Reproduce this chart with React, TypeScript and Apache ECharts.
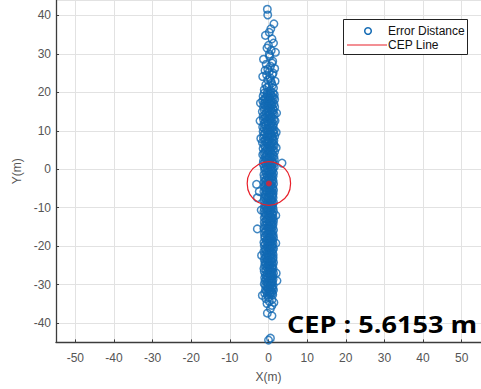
import React, { useEffect, useRef } from "react";
import * as echarts from "echarts";

// Positioning error samples [x (m), y (m)] — sparse upper tail
const upperTail: number[][] = [
  [-0.3, 41.6], [-0.2, 40.1], [1.4, 37.8], [0.6, 36.5], [0.2, 35.6], [-0.8, 34.8], [0.9, 33.9], [1.3, 32.8],
  [0.0, 32.2], [-0.4, 31.5], [0.7, 30.9], [1.8, 30.4], [0.2, 29.9], [0.3, 29.4], [-1.3, 28.6], [1.1, 28.1],
  [0.9, 27.6], [-0.6, 27.3], [0.5, 26.8], [1.6, 26.2], [-0.2, 26.0], [-0.9, 25.7], [0.2, 25.3], [1.2, 25.0],
  [1.0, 24.6], [-0.5, 24.5], [-1.5, 24.1], [0.4, 23.8], [-0.2, 23.2], [0.6, 23.0], [1.7, 22.9], [0.8, 22.4],
  [-0.7, 22.0], [1.0, 21.8], [0.1, 21.6], [-0.4, 21.3], [1.3, 21.1], [-1.1, 20.7], [0.5, 20.4], [-0.3, 20.0],
];

// Dense core between +20 m and 0 m
const upperCore: number[][] = [
  [-1.1, 19.8], [0.3, 19.8], [1.2, 19.8], [0.6, 19.4], [-0.4, 19.4], [1.5, 19.4],
  [-1.4, 19.0], [0.9, 19.0], [0.0, 19.0], [1.3, 18.6], [-0.7, 18.6], [0.4, 18.6],
  [0.1, 18.2], [1.6, 18.2], [-1.0, 18.2], [-0.3, 17.8], [0.7, 17.8], [-1.5, 17.8],
  [1.0, 17.4], [-0.8, 17.4], [0.2, 17.4], [-1.2, 17.0], [1.4, 17.0], [0.5, 17.0],
  [0.8, 16.6], [-0.1, 16.6], [-0.9, 16.6], [1.6, 16.2], [0.3, 16.2], [-1.3, 16.2],
  [-0.5, 15.8], [1.1, 15.8], [0.0, 15.8], [0.6, 15.4], [-1.1, 15.4], [1.3, 15.4],
  [-0.2, 15.0], [0.9, 15.0], [-1.6, 15.0], [1.2, 14.6], [-0.6, 14.6], [0.4, 14.6],
  [-1.0, 14.2], [0.2, 14.2], [1.5, 14.2], [0.7, 13.8], [-1.4, 13.8], [-0.3, 13.8],
  [1.0, 13.4], [0.1, 13.4], [-0.8, 13.4], [-1.3, 13.0], [1.4, 13.0], [0.5, 13.0],
  [0.3, 12.6], [-0.5, 12.6], [1.7, 12.6], [-0.9, 12.2], [0.8, 12.2], [-0.1, 12.2],
  [1.3, 11.8], [-1.2, 11.8], [0.6, 11.8], [0.0, 11.4], [1.0, 11.4], [-0.7, 11.4],
  [-1.5, 11.0], [0.4, 11.0], [1.2, 11.0], [0.9, 10.6], [-0.3, 10.6], [-1.1, 10.6],
  [1.5, 10.2], [0.2, 10.2], [-0.6, 10.2], [-0.2, 9.8], [1.1, 9.8], [-1.4, 9.8],
  [0.5, 9.4], [-0.9, 9.4], [1.4, 9.4], [-1.2, 9.0], [0.7, 9.0], [0.0, 9.0],
  [1.0, 8.6], [-0.4, 8.6], [1.6, 8.6], [0.3, 8.2], [-1.3, 8.2], [0.8, 8.2],
  [-0.7, 7.8], [1.2, 7.8], [-0.1, 7.8], [1.4, 7.4], [0.1, 7.4], [-1.0, 7.4],
  [-0.5, 7.0], [0.9, 7.0], [-1.6, 7.0], [0.6, 6.6], [-0.2, 6.6], [1.3, 6.6],
  [-1.1, 6.2], [1.5, 6.2], [0.4, 6.2], [0.2, 5.8], [-0.8, 5.8], [1.0, 5.8],
  [-1.4, 5.4], [0.7, 5.4], [-0.3, 5.4], [1.2, 5.0], [0.0, 5.0], [-0.6, 5.0],
  [-0.9, 4.6], [1.6, 4.6], [0.5, 4.6], [0.8, 4.2], [-1.2, 4.2], [0.1, 4.2],
  [-0.4, 3.8], [1.1, 3.8], [-1.5, 3.8], [1.4, 3.4], [0.3, 3.4], [-0.7, 3.4],
  [-1.0, 3.0], [0.6, 3.0], [1.0, 3.0], [0.0, 2.6], [-0.5, 2.6], [1.5, 2.6],
  [-1.3, 2.2], [0.9, 2.2], [0.3, 2.2], [1.1, 1.8], [-0.9, 1.8], [-0.1, 1.8],
  [0.5, 1.4], [-1.4, 1.4], [1.3, 1.4], [-0.6, 1.0], [0.8, 1.0], [0.0, 1.0],
  [1.5, 0.6], [-1.1, 0.6], [0.4, 0.6], [-0.3, 0.2], [1.0, 0.2], [-0.8, 0.2],
];

// Dense core between 0 m and -33 m
const lowerCore: number[][] = [
  [0.6, -0.2], [-1.0, -0.2], [1.1, -0.2], [-0.3, -0.6], [0.9, -0.6], [0.2, -0.6],
  [1.3, -1.0], [-0.7, -1.0], [0.4, -1.0], [-1.2, -1.4], [0.7, -1.4], [0.0, -1.4],
  [0.9, -1.8], [-0.4, -1.8], [1.2, -1.8], [0.1, -2.2], [-1.1, -2.2], [0.6, -2.2],
  [-0.6, -2.6], [1.0, -2.6], [0.3, -2.6], [1.2, -3.0], [-0.2, -3.0], [-0.9, -3.0],
  [0.4, -3.4], [-1.2, -3.4], [0.8, -3.4], [-0.1, -3.8], [1.3, -3.8], [-0.6, -3.8],
  [0.7, -4.2], [-0.9, -4.2], [0.2, -4.2], [-1.1, -4.6], [0.5, -4.6], [1.1, -4.6],
  [0.0, -5.0], [1.0, -5.0], [-0.5, -5.0], [1.3, -5.4], [-0.8, -5.4], [0.3, -5.4],
  [-0.4, -5.8], [0.8, -5.8], [-1.2, -5.8], [0.6, -6.2], [0.1, -6.2], [1.2, -6.2],
  [-0.9, -6.6], [1.1, -6.6], [0.4, -6.6], [0.2, -7.0], [-0.6, -7.0], [1.0, -7.0],
  [1.2, -7.4], [-1.0, -7.4], [-0.2, -7.4], [-0.5, -7.8], [0.7, -7.8], [0.0, -7.8],
  [0.9, -8.2], [-1.2, -8.2], [0.5, -8.2], [-0.2, -8.6], [1.3, -8.6], [-0.8, -8.6],
  [0.4, -9.0], [-0.4, -9.0], [1.1, -9.0], [-1.0, -9.4], [0.8, -9.4], [0.1, -9.4],
  [1.0, -9.8], [-0.7, -9.8], [0.6, -9.8], [-0.3, -10.2], [1.2, -10.2], [-1.1, -10.2],
  [0.7, -10.6], [0.0, -10.6], [-0.5, -10.6], [-1.2, -11.0], [0.5, -11.0], [1.3, -11.0],
  [0.3, -11.4], [-0.9, -11.4], [0.9, -11.4], [1.1, -11.8], [-0.1, -11.8], [-0.6, -11.8],
  [-0.8, -12.2], [0.6, -12.2], [0.2, -12.2], [0.8, -12.6], [-1.1, -12.6], [1.2, -12.6],
  [-0.4, -13.0], [1.0, -13.0], [0.0, -13.0], [0.5, -13.4], [-0.7, -13.4], [1.3, -13.4],
  [-1.1, -13.8], [0.2, -13.8], [0.9, -13.8], [1.2, -14.2], [-0.3, -14.2], [0.6, -14.2],
  [-0.6, -14.6], [0.9, -14.6], [-1.0, -14.6], [0.1, -15.0], [1.1, -15.0], [-0.2, -15.0],
  [0.7, -15.4], [-1.2, -15.4], [0.4, -15.4], [-0.5, -15.8], [1.3, -15.8], [0.0, -15.8],
  [1.0, -16.2], [-0.8, -16.2], [0.3, -16.2], [-0.1, -16.6], [0.6, -16.6], [-1.1, -16.6],
  [1.2, -17.0], [-0.4, -17.0], [0.8, -17.0], [-0.9, -17.4], [0.2, -17.4], [1.0, -17.4],
  [0.5, -17.8], [-1.0, -17.8], [1.3, -17.8], [-0.3, -18.2], [0.9, -18.2], [0.1, -18.2],
  [1.1, -18.6], [-0.6, -18.6], [0.4, -18.6], [-1.2, -19.0], [0.7, -19.0], [-0.2, -19.0],
  [0.3, -19.4], [1.2, -19.4], [-0.8, -19.4], [0.9, -19.8], [-0.1, -19.8], [-1.1, -19.8],
  [-0.4, -20.2], [1.0, -20.2], [0.5, -20.2], [1.3, -20.6], [-0.9, -20.6], [0.0, -20.6],
  [-0.7, -21.0], [0.4, -21.0], [1.1, -21.0], [0.2, -21.4], [-1.2, -21.4], [0.8, -21.4],
  [1.0, -21.8], [-0.3, -21.8], [-0.6, -21.8], [-1.0, -22.2], [0.6, -22.2], [1.2, -22.2],
  [0.4, -22.6], [0.0, -22.6], [-0.5, -22.6], [1.2, -23.0], [-0.8, -23.0], [0.7, -23.0],
  [-0.2, -23.4], [1.1, -23.4], [-1.1, -23.4], [0.6, -23.8], [-0.4, -23.8], [0.2, -23.8],
  [-0.9, -24.2], [1.3, -24.2], [0.9, -24.2], [0.1, -24.6], [-0.7, -24.6], [0.5, -24.6],
  [1.1, -25.0], [-1.0, -25.0], [-0.1, -25.0], [-0.5, -25.4], [0.8, -25.4], [0.3, -25.4],
  [0.9, -25.8], [-1.2, -25.8], [1.2, -25.8], [0.0, -26.2], [0.6, -26.2], [-0.6, -26.2],
  [-1.1, -26.6], [1.0, -26.6], [0.4, -26.6], [0.7, -27.0], [-0.3, -27.0], [1.3, -27.0],
  [-0.8, -27.4], [0.2, -27.4], [0.9, -27.4], [1.1, -27.8], [-0.5, -27.8], [0.5, -27.8],
  [-0.2, -28.2], [0.8, -28.2], [-1.0, -28.2], [0.4, -28.6], [1.2, -28.6], [-0.6, -28.6],
  [-0.9, -29.0], [0.1, -29.0], [0.9, -29.0], [1.0, -29.4], [-0.4, -29.4], [0.6, -29.4],
  [-0.1, -29.8], [0.7, -29.8], [-1.1, -29.8], [0.5, -30.2], [-0.8, -30.2], [1.2, -30.2],
  [-0.5, -30.6], [0.3, -30.6], [0.9, -30.6], [1.1, -31.0], [-0.2, -31.0], [0.0, -31.0],
  [-0.8, -31.4], [0.6, -31.4], [1.3, -31.4], [0.2, -31.8], [-0.5, -31.8], [0.8, -31.8],
  [1.0, -32.2], [-1.0, -32.2], [0.4, -32.2], [-0.3, -32.6], [0.5, -32.6], [1.1, -32.6],
];

// Sparse lower tail
const lowerTail: number[][] = [
  [-1.6, -32.8], [0.0, -33.3], [-0.7, -33.6], [0.9, -33.9], [0.2, -34.3], [1.4, -34.6], [-0.4, -34.9],
  [0.9, -35.4], [0.5, -36.2], [-0.3, -37.4], [0.9, -38.1], [0.0, -44.4], [0.5, -43.9],
];

// Scattered outliers around the core
const outliers: number[][] = [
  [3.5, 1.6], [-3.1, -3.9], [-2.9, -7.4], [-2.4, -5.8], [-2.9, -15.5], [2.2, -29.0], [2.0, -27.0],
  [-2.2, 12.6], [2.1, 14.6], [-2.0, 8.0], [2.0, 5.6], [-1.9, -10.6], [1.9, -12.0], [-1.8, -22.4],
  [1.9, -19.2], [-2.1, 17.2], [2.0, 9.6],
];

const errorPoints: number[][] = [...upperTail, ...upperCore, ...lowerCore, ...lowerTail, ...outliers];

// Mean error position and circular error probable radius
const cepCenter: number[] = [0.1, -3.7];
const cepRadius = 5.6153;

const legendLabels: string[] = ["Error Distance", "CEP Line"];
const cepText = `CEP : ${cepRadius.toFixed(4)} m`;

const BLUE = "#1169b3";
const RED = "#e8202a";
const AXIS = "#3c3c3c";

export default function App() {
  const ref = useRef<HTMLDivElement>(null);

  useEffect(() => {
    if (!ref.current) return;
    const chart = echarts.init(ref.current, undefined, { renderer: "svg" });

    const axisCommon = {
      minInterval: 10,
      maxInterval: 10,
      axisLine: { show: true, onZero: false, lineStyle: { color: AXIS, width: 1.3 } },
      axisTick: { show: true, inside: true, length: 3, lineStyle: { color: AXIS } },
      splitLine: { show: true, lineStyle: { color: "#e2e2e2", width: 1 } },
      nameTextStyle: { color: "#555", fontSize: 12, fontFamily: "Liberation Sans" },
    };

    chart.setOption({
      animation: false,
      backgroundColor: "#ffffff",
      grid: { left: 56, right: 0, top: -2.5, bottom: 46.6, containLabel: false },
      xAxis: {
        ...axisCommon,
        type: "value",
        min: -55,
        max: 55,
        name: "X(m)",
        nameLocation: "middle",
        nameGap: 29,
        axisLabel: {
          color: "#555",
          fontSize: 12,
          fontFamily: "Liberation Sans",
          margin: 10,
          showMinLabel: false,
          showMaxLabel: false,
        },
      },
      yAxis: {
        ...axisCommon,
        type: "value",
        min: -45,
        max: 44,
        name: "Y(m)",
        nameLocation: "middle",
        nameGap: 32,
        nameRotate: 90,
        axisLabel: {
          color: "#555",
          fontSize: 12,
          fontFamily: "Liberation Sans",
          margin: 5,
          showMinLabel: false,
          showMaxLabel: false,
        },
      },
      series: [
        {
          name: legendLabels[0],
          type: "scatter",
          data: errorPoints,
          symbol: "circle",
          symbolSize: 7.5,
          itemStyle: { color: "rgba(0,0,0,0)", borderColor: BLUE, borderWidth: 1.5 },
          z: 2,
        },
        {
          name: legendLabels[1],
          type: "custom",
          data: [[cepCenter[0], cepCenter[1], cepRadius]],
          renderItem: (_params: any, api: any) => {
            const c = api.coord([api.value(0), api.value(1)]);
            const r = api.size([api.value(2), 0])[0];
            return {
              type: "circle",
              shape: { cx: c[0], cy: c[1], r },
              style: { fill: "none", stroke: RED, lineWidth: 1.2 },
            };
          },
          z: 3,
        },
        {
          type: "scatter",
          data: [cepCenter],
          symbol: "circle",
          symbolSize: 6,
          itemStyle: { color: RED },
          z: 4,
        },
      ],
      graphic: [
        {
          type: "rect",
          z: 10,
          shape: { x: 343.5, y: 19.5, width: 124, height: 35 },
          style: { fill: "#ffffff", stroke: "#222222", lineWidth: 1 },
        },
        {
          type: "circle",
          z: 11,
          shape: { cx: 368, cy: 31, r: 3.3 },
          style: { fill: "none", stroke: BLUE, lineWidth: 1.5 },
        },
        {
          type: "text",
          z: 11,
          x: 388,
          y: 31,
          style: {
            text: legendLabels[0],
            fill: "#111",
            fontSize: 12,
            fontFamily: "Liberation Sans",
            verticalAlign: "middle",
          },
        },
        {
          type: "line",
          z: 11,
          shape: { x1: 347, y1: 45, x2: 387, y2: 45 },
          style: { stroke: RED, lineWidth: 1.2 },
        },
        {
          type: "text",
          z: 11,
          x: 388,
          y: 45,
          style: {
            text: legendLabels[1],
            fill: "#111",
            fontSize: 12,
            fontFamily: "Liberation Sans",
            verticalAlign: "middle",
          },
        },
        {
          type: "text",
          z: 11,
          x: 287,
          y: 324,
          scaleX: 1.13,
          style: {
            text: cepText,
            fill: "#000",
            fontSize: 24,
            fontWeight: "bold",
            fontFamily: "Open Sans",
            align: "left",
            verticalAlign: "middle",
          },
        },
      ],
    });

    return () => chart.dispose();
  }, []);

  return (
    <div
      ref={ref}
      style={{ position: "fixed", left: 0, top: 0, width: 481, height: 389, background: "#fff" }}
    />
  );
}
